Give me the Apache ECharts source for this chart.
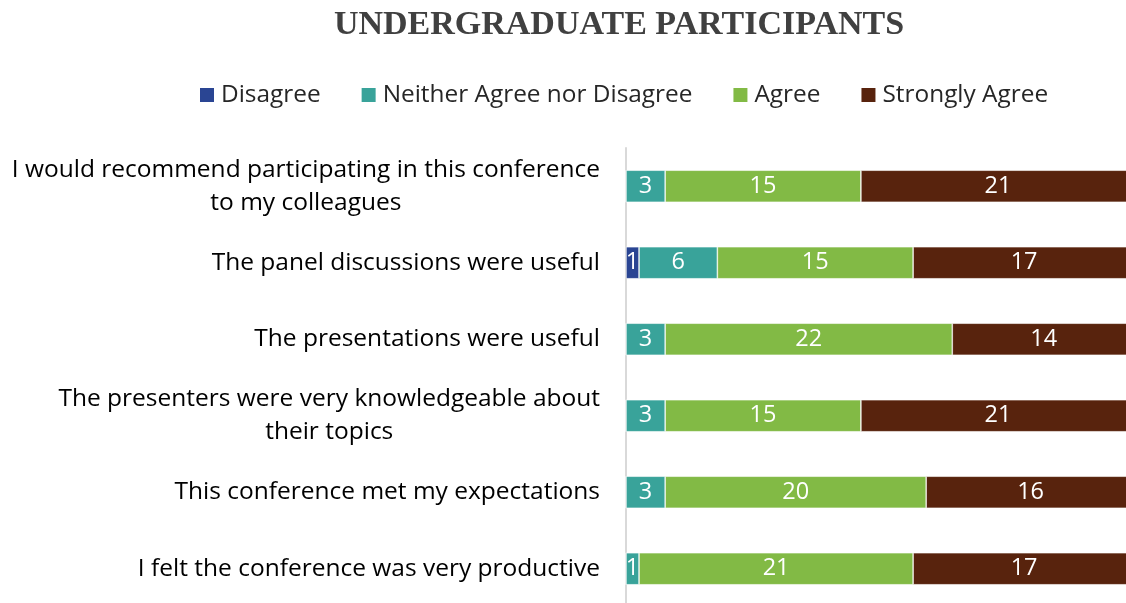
<!DOCTYPE html>
<html>
<head>
<meta charset="utf-8">
<script src="https://cdn.jsdelivr.net/npm/echarts@6/dist/echarts.min.js"></script>
<style>
  html, body { margin: 0; padding: 0; background: #fff; }
  #chart { width: 1126px; height: 603px; }
</style>
</head>
<body>
<div id="chart"></div>
<script>
// statements, top to bottom
const categories = [
  'I would recommend participating in this conference\nto my colleagues',
  'The panel discussions were useful',
  'The presentations were useful',
  'The presenters were very knowledgeable about\ntheir topics',
  'This conference met my expectations',
  'I felt the conference was very productive'
];
const seriesNames = ['Disagree', 'Neither Agree nor Disagree', 'Agree', 'Strongly Agree'];
const disagree = [0, 1, 0, 0, 0, 0];
const neither = [3, 6, 3, 3, 3, 1];
const agree = [15, 15, 22, 15, 20, 21];
const stronglyAgree = [21, 17, 14, 21, 16, 17];
const colors = ['#2a4593', '#39a39a', '#82ba45', '#58230d'];

const font = '"Open Sans", "Noto Sans", sans-serif';

const chart = echarts.init(document.getElementById('chart'));

function makeSeries(name, data, color) {
  return {
    name: name,
    type: 'bar',
    stack: 'all',
    data: data,
    barWidth: 32,
    clip: false,
    itemStyle: { color: color, borderColor: '#ffffff', borderWidth: 0.6 },
    label: {
      show: true,
      position: 'inside',
      color: '#ffffff',
      fontFamily: font,
      fontSize: 23.5,
      formatter: p => (p.value ? String(p.value) : '')
    }
  };
}

chart.setOption({
  animation: false,
  color: colors,
  title: {
    text: 'UNDERGRADUATE PARTICIPANTS',
    left: 614,
    textAlign: 'center',
    top: 3,
    textStyle: {
      fontFamily: '"Liberation Serif", "DejaVu Serif", serif',
      fontWeight: 'bold',
      fontSize: 34,
      color: '#404040'
    }
  },
  legend: {
    top: 78,
    left: 193,
    itemWidth: 16,
    itemHeight: 16,
    itemGap: 39,
    icon: 'rect',
    textStyle: { fontFamily: font, fontSize: 24.4, color: '#262626', padding: [0, 0, 0, 1] },
    data: seriesNames
  },
  grid: { left: 626, width: 509, top: 148, bottom: -4, outerBoundsMode: 'none', containLabel: false },
  xAxis: {
    type: 'value',
    min: 0,
    max: 39,
    show: false
  },
  yAxis: {
    type: 'category',
    inverse: true,
    data: categories,
    axisLine: { show: true, lineStyle: { color: '#d9d9d9', width: 2 } },
    axisTick: { show: false },
    axisLabel: {
      margin: 26,
      align: 'right',
      fontFamily: font,
      fontSize: 24.5,
      color: '#000000',
      lineHeight: 33,
      formatter: v => v.split('\n').map(s => '{c|' + s + '}').join('\n'),
      rich: {
        c: { align: 'center', fontFamily: font, fontSize: 24.5, color: '#000000', lineHeight: 33 }
      }
    }
  },
  series: [
    makeSeries(seriesNames[0], disagree, colors[0]),
    makeSeries(seriesNames[1], neither, colors[1]),
    makeSeries(seriesNames[2], agree, colors[2]),
    makeSeries(seriesNames[3], stronglyAgree, colors[3])
  ]
});
</script>
</body>
</html>
